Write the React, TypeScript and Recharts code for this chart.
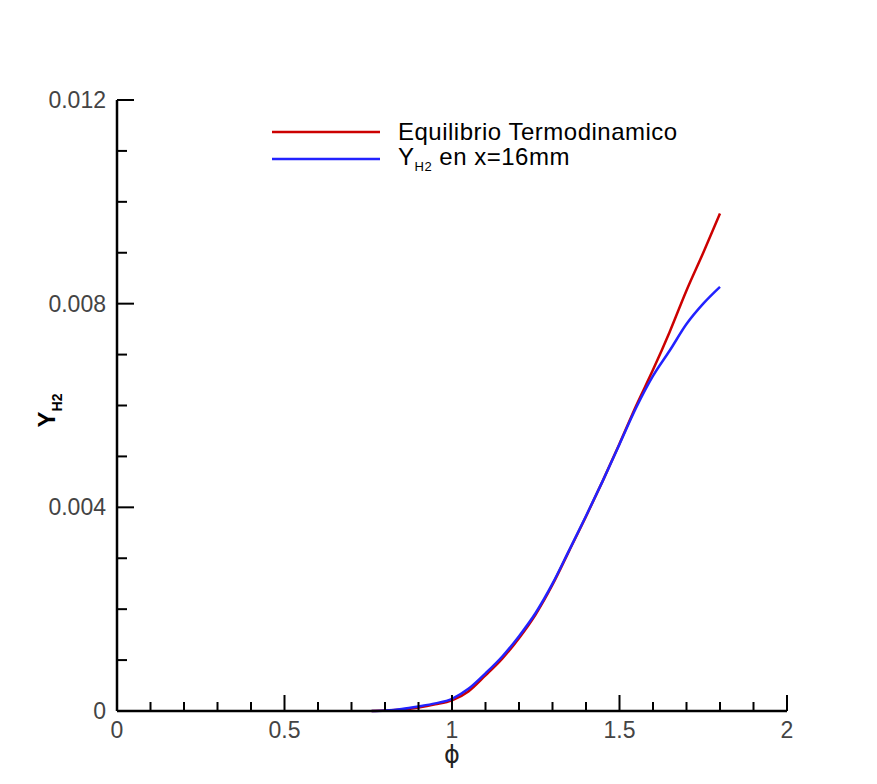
import React from 'react';
import { LineChart, Line, XAxis, YAxis } from 'recharts';

const phi = [0.76, 0.8, 0.85, 0.9, 0.95, 1.0, 1.05, 1.1, 1.15, 1.2, 1.25, 1.3, 1.35, 1.4, 1.45, 1.5, 1.55, 1.6, 1.65, 1.7, 1.75, 1.8];
const yEquilibrio = [0, 0.00001, 0.00003, 0.00007, 0.00013, 0.00021, 0.00039, 0.0007, 0.00103, 0.00143, 0.0019, 0.00248, 0.00315, 0.00382, 0.00452, 0.00525, 0.006, 0.0067, 0.00745, 0.00826, 0.009, 0.00977];
const yH2x16 = [0, 0.00001, 0.00004, 0.00009, 0.00015, 0.00024, 0.00044, 0.00074, 0.00107, 0.00147, 0.00193, 0.0025, 0.00316, 0.00383, 0.00452, 0.00524, 0.00596, 0.00658, 0.00708, 0.0076, 0.008, 0.00833];

const xTicks = [0, 0.1, 0.2, 0.3, 0.4, 0.5, 0.6, 0.7, 0.8, 0.9, 1, 1.1, 1.2, 1.3, 1.4, 1.5, 1.6, 1.7, 1.8, 1.9, 2];
const xMajor = [0, 0.5, 1, 1.5, 2];
const xLabels = ['0', '0.5', '1', '1.5', '2'];
const yTicks = [0, 0.001, 0.002, 0.003, 0.004, 0.005, 0.006, 0.007, 0.008, 0.009, 0.01, 0.011, 0.012];
const yMajor = [0, 0.004, 0.008, 0.012];
const yLabels = ['0', '0.004', '0.008', '0.012'];

const data = phi.map((p, i) => ({ phi: p, eq: yEquilibrio[i], h2: yH2x16[i] }));

const FONT = "'Liberation Sans', Arial, Helvetica, sans-serif";

const isMajor = (arr: number[], v: number) => arr.findIndex((m) => Math.abs(m - v) < 1e-9);

const XTick = (props: any) => {
  const { x, y, payload } = props;
  const idx = isMajor(xMajor, payload.value);
  const len = idx >= 0 ? 16 : 9;
  return (
    <g>
      <line x1={x} y1={y} x2={x} y2={y - len} stroke="#000" strokeWidth={2} />
      {idx >= 0 && (
        <text x={x} y={y + 19} textAnchor="middle" dominantBaseline="central" fontFamily={FONT} fontSize={23} fill="#444">
          {xLabels[idx]}
        </text>
      )}
    </g>
  );
};

const YTick = (props: any) => {
  const { x, y, payload } = props;
  const idx = isMajor(yMajor, payload.value);
  const len = idx >= 0 ? 17 : 10;
  return (
    <g>
      <line x1={x} y1={y} x2={x + len} y2={y} stroke="#000" strokeWidth={2} />
      {idx >= 0 && (
        <text x={x - 11} y={y} textAnchor="end" dominantBaseline="central" fontFamily={FONT} fontSize={23} fill="#444">
          {yLabels[idx]}
        </text>
      )}
    </g>
  );
};

const YLabel = (props: any) => {
  const vb = props.viewBox || {};
  const cx = vb.x - 2;
  const cy = vb.y + vb.height / 2 + 22;
  return (
    <text transform={`translate(${cx}, ${cy}) rotate(-90)`} fontFamily={FONT} fontWeight="bold" fill="#000">
      <tspan fontSize={24}>Y</tspan>
      <tspan fontSize={14} dy={7}>H2</tspan>
    </text>
  );
};

const LegendBox = () => (
  <div style={{ position: 'absolute', left: 272, top: 118, fontFamily: FONT, fontSize: 24, letterSpacing: 0.5, color: '#000' }}>
    <div style={{ display: 'flex', alignItems: 'center', height: 27 }}>
      <svg width={108} height={4}><line x1={0} y1={2} x2={108} y2={2} stroke="#cc0000" strokeWidth={2.5} /></svg>
      <span style={{ marginLeft: 18 }}>Equilibrio Termodinamico</span>
    </div>
    <div style={{ display: 'flex', alignItems: 'center', height: 27 }}>
      <svg width={108} height={4}><line x1={0} y1={2} x2={108} y2={2} stroke="#2222ff" strokeWidth={2.5} /></svg>
      <span style={{ marginLeft: 18 }}>Y<sub style={{ fontSize: 13 }}>H2</sub> en x=16mm</span>
    </div>
  </div>
);

export default function App() {
  return (
    <div style={{ position: 'absolute', left: 0, top: 0, width: 877, height: 784, background: '#fff' }}>
      <LineChart width={877} height={784} data={data} margin={{ top: 100, right: 90, bottom: 33, left: 57 }}>
        <XAxis
          dataKey="phi"
          type="number"
          domain={[0, 2]}
          ticks={xTicks}
          interval={0}
          tick={<XTick />}
          tickLine={false}
          tickSize={0}
          tickMargin={0}
          height={40}
          axisLine={{ stroke: '#000', strokeWidth: 2.5 }}
          label={{ value: 'ϕ', position: 'insideBottom', offset: -12, fontSize: 24, fill: '#222', fontFamily: "'DejaVu Sans', sans-serif" }}
        />
        <YAxis
          type="number"
          domain={[0, 0.012]}
          ticks={yTicks}
          interval={0}
          tick={<YTick />}
          tickLine={false}
          tickSize={0}
          tickMargin={0}
          width={60}
          axisLine={{ stroke: '#000', strokeWidth: 2.5 }}
          label={<YLabel />}
        />
        <Line dataKey="eq" name="Equilibrio Termodinamico" stroke="#cc0000" strokeWidth={2.5} dot={false} isAnimationActive={false} type="monotone" />
        <Line dataKey="h2" name="YH2 en x=16mm" stroke="#2222ff" strokeWidth={2.5} dot={false} isAnimationActive={false} type="monotone" />
      </LineChart>
      <LegendBox />
    </div>
  );
}
